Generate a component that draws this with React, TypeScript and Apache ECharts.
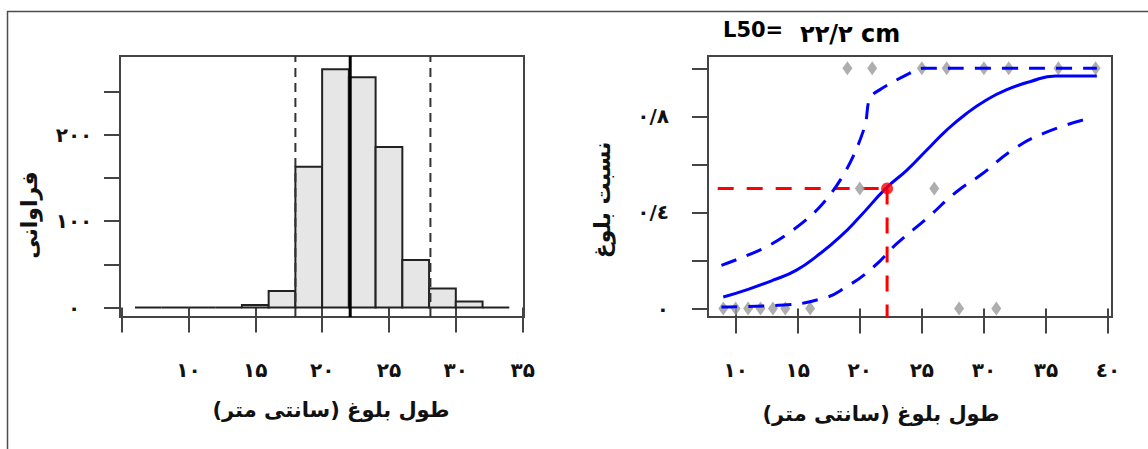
import React, { useEffect, useRef } from "react";
import * as echarts from "echarts";

// ---------- Left panel: length-frequency histogram ----------
const histBinStart = [6, 8, 10, 12, 14, 16, 18, 20, 22, 24, 26, 28, 30, 32];
const histBinWidth = 2;
const histCounts = [0, 0, 0, 0, 3, 19, 163, 276, 267, 186, 55, 22, 7, 0];
const histMeanLine = 22.1;
const histDashedLines = [18.0, 28.1];
const histXMin = 4.88;
const histXMax = 35.1;
const histYMin = -11;
const histYMax = 291.5;
const histXTicks = [5, 10, 15, 20, 25, 30, 35];
const histXLabelValues = [10, 15, 20, 25, 30, 35];
const histXLabelText = ["۱۰", "۱۵", "۲۰", "۲۵", "۳۰", "۳۵"];
const histYTicks = [0, 50, 100, 150, 200, 250];
const histYLabelValues = [0, 100, 200];
const histYLabelText = ["۰", "۱۰۰", "۲۰۰"];

// ---------- Right panel: maturity ogive ----------
const matureLengths = [19, 21, 25, 27, 30, 32, 36, 39]; // proportion 1
const halfLengths = [20, 26]; // proportion 0.5
const immatureLengths = [9, 10, 11, 12, 13, 14, 16, 28, 31]; // proportion 0
const fitX = [9.0, 11.0, 13.0, 14.9, 16.8, 18.4, 20.0, 22.1, 23.8, 25.4, 27.0, 28.6, 30.2, 31.8, 33.7, 35.8, 39.1];
const fitY = [0.048, 0.08, 0.118, 0.16, 0.229, 0.298, 0.382, 0.5, 0.576, 0.66, 0.743, 0.812, 0.868, 0.91, 0.944, 0.968, 0.968];
const upperX = [8.85, 12.2, 14.6, 16.9, 18.9, 20.4, 20.8, 21.6, 24.0, 25.1, 39.1];
const upperY = [0.18, 0.25, 0.326, 0.43, 0.576, 0.757, 0.875, 0.91, 0.979, 1.0, 1.0];
const lowerX = [8.85, 13.5, 17.0, 18.9, 21.1, 23.0, 25.4, 27.8, 29.9, 32.3, 34.8, 38.0];
const lowerY = [0.007, 0.014, 0.042, 0.09, 0.173, 0.271, 0.375, 0.486, 0.562, 0.66, 0.729, 0.785];
const L50 = 22.2;
const L50Prop = 0.5;
const L50LineStartX = 8.55;
const matXMin = 7.77;
const matXMax = 40.32;
const matYMin = -0.035;
const matYMax = 1.051;
const matXTicks = [10, 15, 20, 25, 30, 35, 40];
const matXLabelText = ["۱۰", "۱۵", "۲۰", "۲۵", "۳۰", "۳۵", "٤۰"];
const matYTicks = [0, 0.2, 0.4, 0.6, 0.8, 1.0];
const matYLabelValues = [0, 0.4, 0.8];
const matYLabelText = ["۰", "٠/٤", "۰/۸"];

const xTitle = "طول بلوغ (سانتی متر)";
const histYTitle = "فراوانی";
const matYTitle = "نسبت بلوغ";
const L50Label = "L50=";
const L50Value = "۲۲/۲ cm";

const FONT = "'DejaVu Sans', sans-serif";
const AX = "#444";

function lookup(values: number[], texts: string[]) {
  return (v: number) => {
    const i = values.findIndex((x) => Math.abs(x - v) < 1e-9);
    return i >= 0 ? texts[i] : "";
  };
}

export default function App() {
  const ref = useRef<HTMLDivElement>(null);
  useEffect(() => {
    if (!ref.current) return;
    const chart = echarts.init(ref.current, null, { renderer: "svg" });

    const histData = histBinStart.map((s, i) => [s, s + histBinWidth, histCounts[i]]);
    const zip = (xs: number[], ys: number[]) => xs.map((x, i) => [x, ys[i]]);

    const labelStyle = { fontFamily: FONT, fontWeight: "bold" as const, fontSize: 20, color: "#111" };
    const titleFont = `bold 21px ${FONT}`;

    const option: any = {
      animation: false,
      grid: [
        { left: 120, top: 56, width: 404, height: 261, show: true, borderColor: AX, borderWidth: 2, backgroundColor: "transparent" },
        { left: 708, top: 56, width: 404, height: 261, show: true, borderColor: AX, borderWidth: 2, backgroundColor: "transparent" },
      ],
      xAxis: [
        {
          gridIndex: 0, type: "value", min: histXMin, max: histXMax,
          axisLine: { show: false }, splitLine: { show: false },
          axisTick: { show: true, length: 25, customValues: histXTicks, lineStyle: { color: AX, width: 2 } },
          axisLabel: { show: true, margin: 43, customValues: histXLabelValues, formatter: lookup(histXLabelValues, histXLabelText), ...labelStyle },
        },
        {
          gridIndex: 1, type: "value", min: matXMin, max: matXMax,
          axisLine: { show: false }, splitLine: { show: false },
          axisTick: { show: true, length: 25, customValues: matXTicks, lineStyle: { color: AX, width: 2 } },
          axisLabel: { show: true, margin: 43, customValues: matXTicks, formatter: lookup(matXTicks, matXLabelText), ...labelStyle },
        },
      ],
      yAxis: [
        {
          gridIndex: 0, type: "value", min: histYMin, max: histYMax,
          axisLine: { show: false }, splitLine: { show: false },
          axisTick: { show: true, length: 16, customValues: histYTicks, lineStyle: { color: AX, width: 2 } },
          axisLabel: { show: true, margin: 46, align: "center", customValues: histYLabelValues, formatter: lookup(histYLabelValues, histYLabelText), ...labelStyle },
        },
        {
          gridIndex: 1, type: "value", min: matYMin, max: matYMax,
          axisLine: { show: false }, splitLine: { show: false },
          axisTick: { show: true, length: 16, customValues: matYTicks, lineStyle: { color: AX, width: 2 } },
          axisLabel: { show: true, margin: 39, customValues: matYLabelValues, formatter: lookup(matYLabelValues, matYLabelText), ...labelStyle },
        },
      ],
      series: [
        {
          type: "custom", xAxisIndex: 0, yAxisIndex: 0, data: histData, encode: { x: [0, 1], y: 2 }, z: 2,
          renderItem: (params: any, api: any) => {
            const x0 = api.value(0), x1 = api.value(1), c = api.value(2);
            const p0 = api.coord([x0, c]);
            const p1 = api.coord([x1, 0]);
            if (c <= 0) {
              return { type: "line", shape: { x1: p0[0], y1: p1[1], x2: p1[0], y2: p1[1] }, style: { stroke: "#222", lineWidth: 2 } };
            }
            return {
              type: "rect",
              shape: { x: p0[0], y: p0[1], width: p1[0] - p0[0], height: p1[1] - p0[1] },
              style: { fill: "#e6e6e6", stroke: "#222", lineWidth: 2 },
            };
          },
        },
        {
          type: "line", xAxisIndex: 0, yAxisIndex: 0, z: 3, symbol: "none",
          data: [[histMeanLine, histYMin], [histMeanLine, histYMax]],
          lineStyle: { color: "#000", width: 3 },
        },
        ...histDashedLines.map((v) => ({
          type: "line", xAxisIndex: 0, yAxisIndex: 0, z: 3, symbol: "none",
          data: [[v, histYMin], [v, histYMax]],
          lineStyle: { color: "#333", width: 2, type: [9, 6] },
        })),
        // right panel
        {
          type: "line", xAxisIndex: 1, yAxisIndex: 1, z: 2, symbol: "none",
          data: [[L50LineStartX, L50Prop], [L50, L50Prop]],
          lineStyle: { color: "#ff0000", width: 3, type: [16, 13] },
        },
        {
          type: "line", xAxisIndex: 1, yAxisIndex: 1, z: 2, symbol: "none",
          data: [[L50, L50Prop], [L50, matYMin]],
          lineStyle: { color: "#ff0000", width: 3, type: [16, 13] },
        },
        {
          type: "scatter", xAxisIndex: 1, yAxisIndex: 1, z: 3, symbol: "diamond", symbolSize: [10, 14],
          itemStyle: { color: "#9a9a9a" },
          data: [
            ...matureLengths.map((x) => [x, 1]),
            ...halfLengths.map((x) => [x, 0.5]),
            ...immatureLengths.map((x) => [x, 0]),
          ],
        },
        {
          type: "line", xAxisIndex: 1, yAxisIndex: 1, z: 4, symbol: "none", smooth: 0.5,
          data: zip(fitX, fitY), lineStyle: { color: "#0000ff", width: 3 },
        },
        {
          type: "line", xAxisIndex: 1, yAxisIndex: 1, z: 4, symbol: "none", smooth: 0.35,
          data: zip(upperX, upperY), lineStyle: { color: "#0000ff", width: 3, type: [16, 11] },
        },
        {
          type: "line", xAxisIndex: 1, yAxisIndex: 1, z: 4, symbol: "none", smooth: 0.5,
          data: zip(lowerX, lowerY), lineStyle: { color: "#0000ff", width: 3, type: [16, 11] },
        },
        {
          type: "scatter", xAxisIndex: 1, yAxisIndex: 1, z: 5, symbol: "circle", symbolSize: 12,
          itemStyle: { color: "#ff0000" }, data: [[L50, L50Prop]],
        },
      ],
      graphic: [
        { type: "line", shape: { x1: 7, y1: 11.5, x2: 1148, y2: 11.5 }, style: { stroke: "#4d4d4d", lineWidth: 1.5 } },
        { type: "line", shape: { x1: 7.5, y1: 11, x2: 7.5, y2: 449 }, style: { stroke: "#4d4d4d", lineWidth: 1.5 } },
        { type: "text", x: 331, y: 410, style: { text: xTitle, font: titleFont, fill: "#111", textAlign: "center", textVerticalAlign: "middle" } },
        { type: "text", x: 881, y: 414, style: { text: xTitle, font: titleFont, fill: "#111", textAlign: "center", textVerticalAlign: "middle" } },
        { type: "text", x: 29, y: 215, rotation: Math.PI / 2, style: { text: histYTitle, font: `bold 22px ${FONT}`, fill: "#111", textAlign: "center", textVerticalAlign: "middle" } },
        { type: "text", x: 602, y: 200, rotation: Math.PI / 2, style: { text: matYTitle, font: `bold 22px ${FONT}`, fill: "#111", textAlign: "center", textVerticalAlign: "middle" } },
        { type: "text", x: 723, y: 30, style: { text: L50Label, font: `bold 21px ${FONT}`, fill: "#000", textAlign: "left", textVerticalAlign: "middle" } },
        { type: "text", x: 800, y: 34, style: { text: L50Value, font: `bold 24px ${FONT}`, fill: "#000", textAlign: "left", textVerticalAlign: "middle" } },
      ],
    };
    chart.setOption(option);
    return () => chart.dispose();
  }, []);
  return <div ref={ref} style={{ position: "fixed", left: 0, top: 0, width: 1148, height: 449, background: "#fff" }} />;
}
